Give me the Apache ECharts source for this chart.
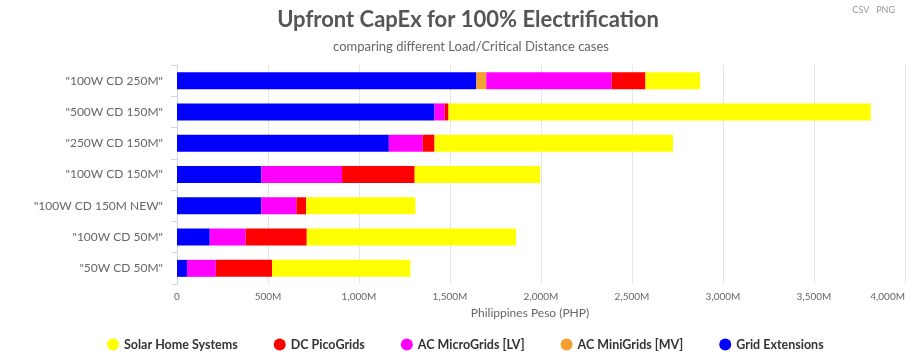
<!DOCTYPE html>
<html><head><meta charset="utf-8">
<script src="https://cdn.jsdelivr.net/npm/echarts@6/dist/echarts.min.js"></script>
<style>html,body{margin:0;padding:0;background:#fff}#c{width:915px;height:354px}</style>
</head><body><div id="c"></div>
<script>
const categories = ['"100W CD 250M"','"500W CD 150M"','"250W CD 150M"','"100W CD 150M"','"100W CD 150M NEW"','"100W CD 50M"','"50W CD 50M"'];
const gridExt   = [1645, 1415, 1164, 464, 464, 180, 55];
const miniGrid  = [54, 0, 0, 0, 0, 0, 0];
const microGrid = [689, 55, 186, 443, 192, 197, 158];
const dcPico    = [186, 22, 65, 399, 54, 336, 309];
const shs       = [300, 2320, 1310, 690, 600, 1150, 760];
const xTicks = [0, 500, 1000, 1500, 2000, 2500, 3000, 3500, 4000];

const chart = echarts.init(document.getElementById('c'));
const font = 'Lato, "Open Sans", sans-serif';
function s(name, data, color){
  return {name, type:'bar', stack:'t', data, barWidth:17, itemStyle:{color}, emphasis:{disabled:true}};
}
chart.setOption({
  animation:false,
  textStyle:{fontFamily:font},
  graphic:[
    {type:'text', x:468, y:9, style:{text:'Upfront CapEx for 100% Electrification', textAlign:'center',
      font:'bold 22px Lato, sans-serif', fill:'#555'}},
    {type:'text', x:471, y:40, style:{text:'comparing different Load/Critical Distance cases', textAlign:'center',
      font:'13px Lato, sans-serif', fill:'#666'}},
    {type:'text', x:895, y:6, style:{text:'CSV   PNG', textAlign:'right', font:'9px Lato, sans-serif', fill:'#999'}},
    {type:'text', x:530, y:307, style:{text:'Philippines Peso (PHP)', textAlign:'center', font:'12px Lato, sans-serif', fill:'#666'}}
  ],
  grid:{left:177, right:10, top:65, bottom:70},
  legend:{top:333, left:102, icon:'circle', itemWidth:12, itemHeight:12, itemGap:36,
    data:['Solar Home Systems','DC PicoGrids','AC MicroGrids [LV]','AC MiniGrids [MV]','Grid Extensions'],
    textStyle:{fontSize:12.5, fontWeight:'bold', color:'#333', fontFamily:font}},
  xAxis:{type:'value', min:0, max:4000, interval:500,
    axisLine:{show:false}, axisTick:{show:false},
    axisLabel:{fontSize:10, color:'#666', margin:8, alignMaxLabel:'right',
      formatter:v=> xTicks.includes(v) ? (v===0?'0':v.toLocaleString('en-US')+'M') : ''},
    splitLine:{lineStyle:{color:'#e6e6e6'}}},
  yAxis:{type:'category', data:categories, inverse:true,
    axisLine:{show:true, lineStyle:{color:'#ccd6eb'}},
    axisTick:{show:true, length:6, lineStyle:{color:'#ccd6eb'}},
    axisLabel:{fontSize:12, color:'#666', margin:14, fontFamily:font}},
  series:[
    s('Grid Extensions', gridExt, '#0000ff'),
    s('AC MiniGrids [MV]', miniGrid, '#f5a030'),
    s('AC MicroGrids [LV]', microGrid, '#ff00ff'),
    s('DC PicoGrids', dcPico, '#ff0000'),
    s('Solar Home Systems', shs, '#ffff00')
  ]
});
</script></body></html>
